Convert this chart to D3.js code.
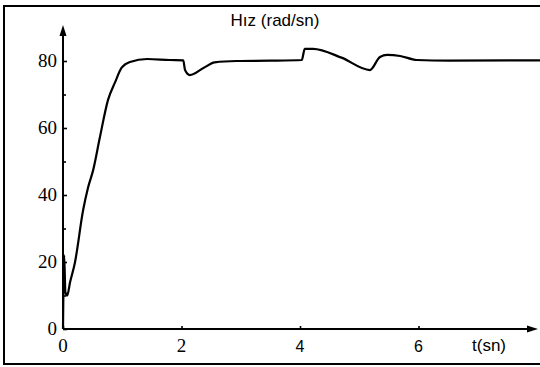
<!DOCTYPE html>
<html>
<head>
<meta charset="utf-8">
<script src="https://cdn.jsdelivr.net/npm/d3@7"></script>
<style>
  html, body { margin: 0; padding: 0; background: #fff; }
  svg { display: block; }
  .serif { font-family: "Liberation Serif", "DejaVu Serif", serif; }
  .sans { font-family: "Liberation Sans", Arial, sans-serif; }
</style>
</head>
<body>
<svg id="chart" width="540" height="367"></svg>
<script>
// ---- data ----
const timeValues = [0, 0.02, 0.04, 0.07, 0.12, 0.2, 0.34, 0.42, 0.51, 0.62, 0.76, 0.88, 0.99, 1.13, 1.42, 1.8, 2.03, 2.06, 2.14, 2.37, 2.56, 2.93, 3.5, 4.03, 4.08, 4.22, 4.7, 5.18, 5.35, 5.47, 5.69, 5.97, 6.5, 8.1];
const speedValues = [0, 22, 11, 10, 14, 19.7, 35.5, 42, 47.5, 57, 68.4, 73.7, 78, 79.7, 80.6, 80.3, 80.2, 77.3, 75.8, 77.9, 79.6, 80, 80.1, 80.3, 83.6, 83.6, 81, 77.3, 81.2, 81.8, 81.5, 80.3, 80.1, 80.2];
const xTicks = [0, 2, 4, 6];
const yTicks = [0, 20, 40, 60, 80];
const yMinorTicks = [10, 30, 50, 70];
const titleText = "Hız (rad/sn)";
const xLabelText = "t(sn)";

const svg = d3.select("#chart");

const x = d3.scaleLinear().domain([0, 8]).range([63, 537]);
const y = d3.scaleLinear().domain([0, 80]).range([329, 61]);

// frame
svg.append("path")
  .attr("d", "M540,6 L4,6 L4,364 L540,364")
  .attr("fill", "none").attr("stroke", "#000").attr("stroke-width", 2);

svg.append("defs").append("clipPath").attr("id", "clip")
  .append("rect").attr("x", 0).attr("y", 0).attr("width", 540).attr("height", 367);

// x axis line with arrow
svg.append("line")
  .attr("x1", x(0)).attr("y1", y(0)).attr("x2", 530).attr("y2", y(0))
  .attr("stroke", "#000").attr("stroke-width", 2);
svg.append("path")
  .attr("d", `M538,${y(0)} L527,${y(0) - 3.5} L527,${y(0) + 3.5} Z`)
  .attr("fill", "#000");

// y axis line with arrow
svg.append("line")
  .attr("x1", x(0)).attr("y1", y(0)).attr("x2", x(0)).attr("y2", 32)
  .attr("stroke", "#000").attr("stroke-width", 2);
svg.append("path")
  .attr("d", `M${x(0)},25 L${x(0) - 3.5},36 L${x(0) + 3.5},36 Z`)
  .attr("fill", "#000");

// y ticks (inside, to the right)
const yAxis = d3.axisRight(y).tickValues(yTicks).tickSize(4).tickFormat("");
const yAxisMinor = d3.axisRight(y).tickValues(yMinorTicks).tickSize(3).tickFormat("");
[yAxis, yAxisMinor].forEach(a => {
  const g = svg.append("g").attr("transform", `translate(${x(0)},0)`).call(a);
  g.select(".domain").remove();
  g.selectAll(".tick line").attr("stroke", "#000").attr("stroke-width", 1.6);
});

// x ticks (inside, upward)
const xAxis = d3.axisTop(x).tickValues(xTicks).tickSize(3).tickFormat("");
const gx = svg.append("g").attr("transform", `translate(0,${y(0)})`).call(xAxis);
gx.select(".domain").remove();
gx.selectAll(".tick line").attr("stroke", "#000").attr("stroke-width", 1.6);

// y tick labels
svg.append("g").selectAll("text").data(yTicks).join("text")
  .attr("class", "serif")
  .attr("x", x(0) - 6).attr("y", d => y(d) + 6)
  .attr("text-anchor", "end")
  .attr("font-size", 19)
  .text(d => d);

// x tick labels
svg.append("g").selectAll("text").data(xTicks).join("text")
  .attr("class", d => d < 4 ? "serif" : "sans")
  .attr("x", d => x(d)).attr("y", 352)
  .attr("text-anchor", "middle")
  .attr("font-size", d => d < 4 ? 19 : 16)
  .text(d => d);

// x axis label
svg.append("text")
  .attr("class", "sans")
  .attr("x", 489).attr("y", 351)
  .attr("text-anchor", "middle")
  .attr("font-size", 17)
  .text(xLabelText);

// title
svg.append("text")
  .attr("class", "sans")
  .attr("x", 275).attr("y", 26)
  .attr("text-anchor", "middle")
  .attr("font-size", 17)
  .text(titleText);

// curve
const data = timeValues.map((t, i) => ({ t, v: speedValues[i] }));
svg.append("path")
  .datum(data)
  .attr("clip-path", "url(#clip)")
  .attr("d", d3.line().x(d => x(d.t)).y(d => y(d.v)).curve(d3.curveMonotoneX))
  .attr("fill", "none")
  .attr("stroke", "#000")
  .attr("stroke-width", 2.2)
  .attr("stroke-linejoin", "round");
</script>
</body>
</html>
